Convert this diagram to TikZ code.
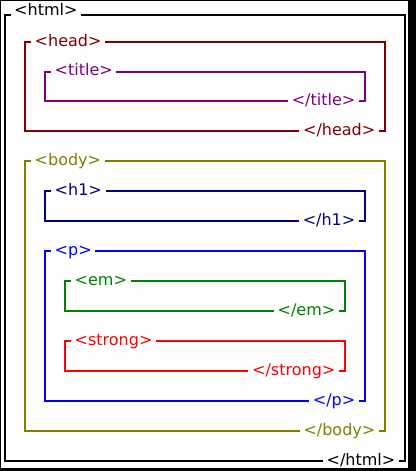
\documentclass[tikz,border=0pt]{standalone}
\usepackage{fontspec}
\setmainfont{DejaVu Sans}
\definecolor{htmlc}{HTML}{000000}
\definecolor{headc}{HTML}{800000}
\definecolor{titlec}{HTML}{800080}
\definecolor{bodyc}{HTML}{808000}
\definecolor{hone}{HTML}{000080}
\definecolor{pc}{HTML}{0000FF}
\definecolor{emc}{HTML}{008000}
\definecolor{strongc}{HTML}{FF0000}

% #1 name, #2 colour, #3 left, #4 top, #5 right, #6 bottom, #7 tag, #8 baseline offset of opening tag
\newcommand\htmltagbox[8]{%
  \node[tagtext, text=#2, anchor=base west] (#1open) at (#3+6,#4+#8) {<#7>};
  \node[tagtext, text=#2, anchor=base east] (#1close) at (#5-6,#6+4) {</#7>};
  \draw[boxline, #2] (#1open.west |- #3,#4) -- (#3,#4) -- (#3,#6) -- (#1close.west |- #3,#6);
  \draw[boxline, #2] (#1close.east |- #5,#6) -- (#5,#6) -- (#5,#4) -- (#1open.east |- #5,#4);
}

\begin{document}
\begin{tikzpicture}[x=1pt, y=-1pt,
  tagtext/.style={inner xsep=3.5pt, inner ysep=0pt, font=\fontsize{16}{19}\selectfont},
  boxline/.style={line width=2pt}]
  % page frame
  \fill[black] (0,0) rectangle (416,471);
  \fill[white] (1,1) rectangle (408,468);
  \useasboundingbox (0,0) rectangle (416,471);

  \htmltagbox{html}{htmlc}{4.5}{14.5}{405}{461}{html}{1.5}
  \htmltagbox{head}{headc}{25}{42}{385}{131}{head}{4}
  \htmltagbox{title}{titlec}{45}{71.5}{365}{101}{title}{4}
  \htmltagbox{body}{bodyc}{25}{161}{385}{431}{body}{4}
  \htmltagbox{hone}{hone}{45}{191}{365}{221}{h1}{4}
  \htmltagbox{para}{pc}{45}{251}{365}{401}{p}{4}
  \htmltagbox{em}{emc}{65}{281}{345}{311}{em}{4}
  \htmltagbox{strong}{strongc}{65}{341}{345}{371}{strong}{4}
\end{tikzpicture}
\end{document}
